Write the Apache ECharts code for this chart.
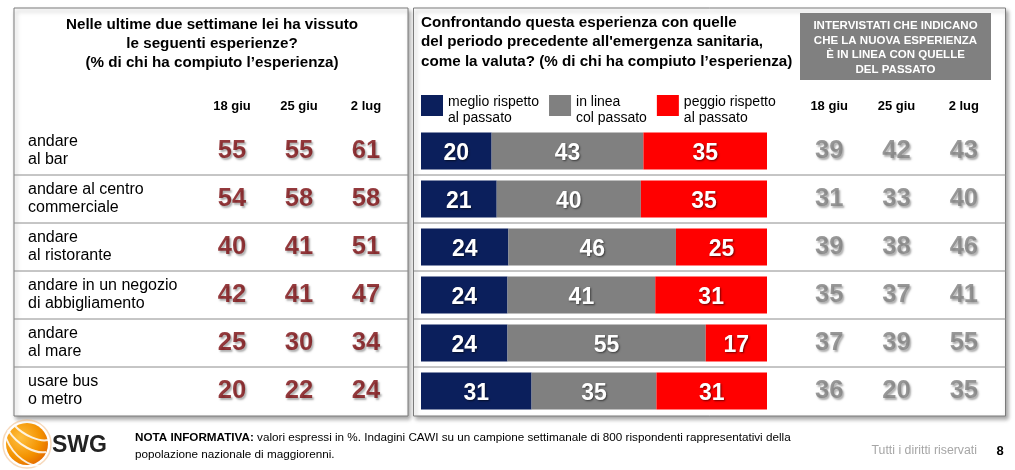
<!DOCTYPE html>
<html>
<head>
<meta charset="utf-8">
<script src="https://cdn.jsdelivr.net/npm/echarts@6/dist/echarts.min.js"></script>
<style>
html,body{margin:0;padding:0;background:#fff;}
#c{width:1015px;height:470px;}
</style>
</head>
<body>
<div id="c"></div>
<script>
// ---- data ----
const rows = ['andare\nal bar', 'andare al centro\ncommerciale', 'andare\nal ristorante', 'andare in un negozio\ndi abbigliamento', 'andare\nal mare', 'usare bus\no metro'];
const weeks = ['18 giu', '25 giu', '2 lug'];
const fatto18giu = [55, 54, 40, 42, 25, 20];
const fatto25giu = [55, 58, 41, 41, 30, 22];
const fatto2lug = [61, 58, 51, 47, 34, 24];
const meglio = [20, 21, 24, 24, 24, 31];
const inLinea = [43, 40, 46, 41, 55, 35];
const peggio = [35, 35, 25, 31, 17, 31];
const linea18giu = [39, 31, 39, 35, 37, 36];
const linea25giu = [42, 33, 38, 37, 39, 20];
const linea2lug = [43, 40, 46, 41, 55, 35];
const legendNames = ['meglio rispetto\nal passato', 'in linea\ncol passato', 'peggio rispetto\nal passato'];

// ---- build ----
const FONT = '"Liberation Sans", Arial, sans-serif';
const totals = rows.map((_, i) => meglio[i] + inLinea[i] + peggio[i]);
function barData(arr) {
  return arr.map((v, i) => ({ value: v / totals[i] * 100, raw: v }));
}
function tableData(cols) {
  const out = [];
  cols.forEach((col, w) => col.forEach((v, r) => out.push([w, r, v])));
  return out;
}
const barLabel = {
  show: true, position: 'inside', offset: [0, 3], color: '#fff', fontSize: 23, fontWeight: 'bold', fontFamily: FONT,
  textShadowColor: 'rgba(0,0,0,0.55)', textShadowBlur: 2, textShadowOffsetX: 1, textShadowOffsetY: 1,
  formatter: p => p.data.raw
};
function tableLabel(color) {
  return {
    show: true, position: 'inside', color: color, fontSize: 25.5, fontWeight: 'bold', fontFamily: FONT,
    textShadowColor: 'rgba(0,0,0,0.4)', textShadowBlur: 2, textShadowOffsetX: 1.5, textShadowOffsetY: 1.5,
    formatter: p => p.value[2]
  };
}
const ROW_TOP = 127, ROW_H = 48;
const sepLines = [];
for (let i = 1; i < rows.length; i++) {
  const y = ROW_TOP + i * ROW_H;
  sepLines.push({ type: 'line', shape: { x1: 14, y1: y, x2: 408, y2: y }, style: { stroke: '#8c8c8c', lineWidth: 1 }, z: 1 });
  sepLines.push({ type: 'line', shape: { x1: 414, y1: y, x2: 1006, y2: y }, style: { stroke: '#8c8c8c', lineWidth: 1 }, z: 1 });
}
const headAxis = {
  type: 'category', data: weeks, position: 'top',
  axisLine: { show: false }, axisTick: { show: false }, splitLine: { show: false },
  axisLabel: { color: '#000', fontSize: 13, fontWeight: 'bold', fontFamily: FONT, margin: 14 }
};

const chart = echarts.init(document.getElementById('c'), null, { renderer: 'canvas' });
chart.setOption({
  animation: false,
  color: ['#0b1f5c', '#808080', '#ff0000'],
  legend: {
    data: legendNames, left: 421, top: 94, padding: 0, itemGap: 10,
    itemWidth: 22, itemHeight: 30, icon: 'path://M0,0L22,0L22,21L0,21Z M0,30L0.01,30', selectedMode: false,
    textStyle: { fontSize: 14, lineHeight: 16, color: '#000', fontFamily: FONT }
  },
  grid: [
    { left: 421, width: 346, top: ROW_TOP, height: ROW_H * rows.length },
    { left: 198.5, width: 201, top: ROW_TOP, height: ROW_H * rows.length },
    { left: 795.5, width: 202, top: ROW_TOP, height: ROW_H * rows.length }
  ],
  xAxis: [
    { type: 'value', gridIndex: 0, min: 0, max: 100, show: false },
    Object.assign({ gridIndex: 1 }, headAxis),
    Object.assign({ gridIndex: 2 }, headAxis)
  ],
  yAxis: [
    { type: 'category', gridIndex: 0, data: rows, inverse: true, show: false },
    {
      type: 'category', gridIndex: 1, data: rows, inverse: true,
      axisLine: { show: false }, axisTick: { show: false },
      axisLabel: { align: 'left', margin: 170.5, color: '#000', fontSize: 16, lineHeight: 18, fontFamily: FONT }
    },
    { type: 'category', gridIndex: 2, data: rows, inverse: true, show: false }
  ],
  series: [
    { name: legendNames[0], type: 'bar', stack: 'tot', xAxisIndex: 0, yAxisIndex: 0, barCategoryGap: '23%', data: barData(meglio), label: barLabel },
    { name: legendNames[1], type: 'bar', stack: 'tot', xAxisIndex: 0, yAxisIndex: 0, barCategoryGap: '23%', data: barData(inLinea), label: barLabel },
    { name: legendNames[2], type: 'bar', stack: 'tot', xAxisIndex: 0, yAxisIndex: 0, barCategoryGap: '23%', data: barData(peggio), label: barLabel },
    {
      type: 'scatter', xAxisIndex: 1, yAxisIndex: 1, symbolSize: 1, itemStyle: { color: 'rgba(0,0,0,0)' },
      data: tableData([fatto18giu, fatto25giu, fatto2lug]), label: tableLabel('#7a0a0e')
    },
    {
      type: 'scatter', xAxisIndex: 2, yAxisIndex: 2, symbolSize: 1, itemStyle: { color: 'rgba(0,0,0,0)' },
      data: tableData([linea18giu, linea25giu, linea2lug]), label: tableLabel('#7f7f7f')
    }
  ],
  graphic: [
    // panels
    { type: 'rect', shape: { x: 14, y: 8, width: 394, height: 408 }, style: { fill: '#fff', stroke: '#7a7a7a', lineWidth: 1, shadowColor: 'rgba(0,0,0,0.35)', shadowBlur: 4, shadowOffsetX: 2, shadowOffsetY: 3 }, z: 0 },
    { type: 'rect', shape: { x: 413.5, y: 8, width: 592, height: 408 }, style: { fill: '#fff', stroke: '#7a7a7a', lineWidth: 1, shadowColor: 'rgba(0,0,0,0.35)', shadowBlur: 4, shadowOffsetX: 2, shadowOffsetY: 3 }, z: 0 },
    ...sepLines,
    // titles
    { type: 'text', z: 2, style: { x: 212, y: 15.5, text: 'Nelle ultime due settimane lei ha vissuto\nle seguenti esperienze?\n(% di chi ha compiuto l\u2019esperienza)', textAlign: 'center', fontSize: 15.2, fontWeight: 'bold', fontFamily: FONT, lineHeight: 19, fill: '#000' } },
    { type: 'text', z: 2, style: { x: 421, y: 13, text: 'Confrontando questa esperienza con quelle\ndel periodo precedente all\'emergenza sanitaria,\ncome la valuta? (% di chi ha compiuto l\u2019esperienza)', textAlign: 'left', fontSize: 15.2, fontWeight: 'bold', fontFamily: FONT, lineHeight: 19.5, fill: '#000' } },
    // grey box
    { type: 'rect', z: 1, shape: { x: 800, y: 13, width: 191, height: 67 }, style: { fill: '#808080' } },
    { type: 'text', z: 2, style: { x: 895.5, y: 19, text: 'INTERVISTATI CHE INDICANO\nCHE LA NUOVA ESPERIENZA\n\u00C8 IN LINEA CON QUELLE\nDEL PASSATO', textAlign: 'center', fontSize: 11.5, fontWeight: 'bold', fontFamily: FONT, lineHeight: 14.5, fill: '#fff' } },
    // footer logo
    { type: 'circle', z: 2, shape: { cx: 27, cy: 444, r: 21 }, style: { fill: { type: 'radial', x: 0.35, y: 0.35, r: 0.8, colorStops: [{ offset: 0, color: '#ffc040' }, { offset: 0.6, color: '#f39200' }, { offset: 1, color: '#e06000' }] } } },
    { type: 'bezierCurve', z: 3, shape: { x1: 6, y1: 438, x2: 40, y2: 466, cpx1: 14, cpy1: 458, cpx2: 30, cpy2: 466 }, style: { stroke: 'rgba(255,255,255,0.85)', lineWidth: 2, fill: null } },
    { type: 'bezierCurve', z: 3, shape: { x1: 8, y1: 430, x2: 46, y2: 452, cpx1: 18, cpy1: 446, cpx2: 36, cpy2: 454 }, style: { stroke: 'rgba(255,255,255,0.85)', lineWidth: 2, fill: null } },
    { type: 'bezierCurve', z: 3, shape: { x1: 14, y1: 425, x2: 48, y2: 440, cpx1: 24, cpy1: 436, cpx2: 40, cpy2: 442 }, style: { stroke: 'rgba(255,255,255,0.85)', lineWidth: 2, fill: null } },
    { type: 'circle', z: 1, shape: { cx: 27, cy: 444, r: 24 }, style: { fill: null, stroke: 'rgba(240,180,120,0.5)', lineWidth: 1.5 } },
    { type: 'text', z: 2, style: { x: 52, y: 446, text: 'SWG', textVerticalAlign: 'middle', fontSize: 23, fontWeight: 'bold', fontFamily: FONT, fill: '#222' } },
    // footnote
    { type: 'text', z: 2, style: { x: 135, y: 429, text: '{b|NOTA INFORMATIVA:} valori espressi in %. Indagini CAWI su un campione settimanale di 800 rispondenti rappresentativi della\npopolazione nazionale di maggiorenni.', fontSize: 11.7, lineHeight: 17, fontFamily: FONT, fill: '#000', rich: { b: { fontWeight: 'bold', fontSize: 11.7, fontFamily: FONT, fill: '#000' } } } },
    { type: 'text', z: 2, style: { x: 977, y: 451, text: 'Tutti i diritti riservati', textAlign: 'right', textVerticalAlign: 'middle', fontSize: 12.3, fontFamily: FONT, fill: '#a6a6a6' } },
    { type: 'text', z: 2, style: { x: 1000, y: 451, text: '8', textAlign: 'center', textVerticalAlign: 'middle', fontSize: 13, fontWeight: 'bold', fontFamily: FONT, fill: '#000' } }
  ]
});
</script>
</body>
</html>
